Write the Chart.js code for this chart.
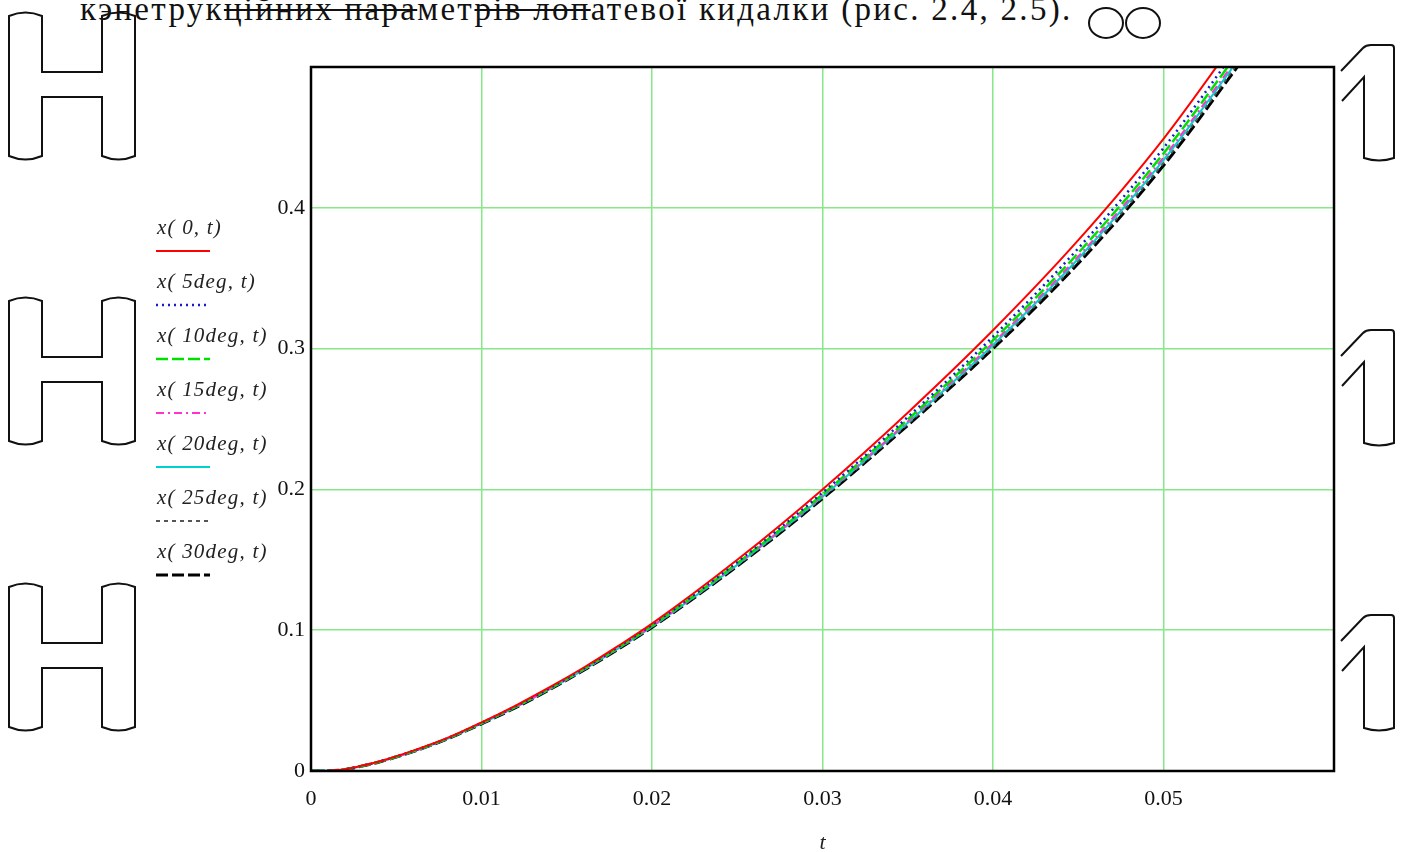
<!DOCTYPE html>
<html>
<head>
<meta charset="utf-8">
<script src="https://cdn.jsdelivr.net/npm/chart.js@4.4.1/dist/chart.umd.min.js"></script>
<style>
  html, body { margin: 0; padding: 0; background: #fff; overflow: hidden; }
  #wrap { position: relative; width: 1403px; height: 852px; }
  #deco { position: absolute; left: 0; top: 0; }
  #chart { position: absolute; left: 0; top: 0; }
  #topText {
    position: absolute; left: 80px; top: -7px; white-space: nowrap;
    font-family: "Liberation Serif", serif; font-size: 33px; line-height: 33px;
    letter-spacing: 2.3px; color: #111;
  }
  #topText s { text-decoration-thickness: 2px; }
</style>
</head>
<body>
<div id="wrap">
  <!-- outline letters that show through around the plot in the scan -->
  <svg id="deco" width="1403" height="852" fill="none" stroke="#111" stroke-width="2">
    <path id="hShape" transform="translate(9,12)" d="M0,4 Q16.5,-3 33,4 L33,60 L93,60 L93,4 Q109.5,-3 126,4 L126,144 Q109.5,151 93,144 L93,85 L33,85 L33,144 Q16.5,151 0,144 Z"/>
    <use href="#hShape" transform="translate(0,285)"/>
    <use href="#hShape" transform="translate(0,571)"/>
    <path id="oneShape" transform="translate(1341,45)" d="M0,26 L22,3 Q25,0 30,0 L50,0 Q53,0 53,3 L53,113 Q38,118 23,113 L23,32 L1,56"/>
    <use href="#oneShape" transform="translate(0,285)"/>
    <use href="#oneShape" transform="translate(0,570)"/>
    <ellipse cx="1106" cy="23" rx="17" ry="15"/>
    <ellipse cx="1143" cy="23" rx="17" ry="15"/>
  </svg>
  <div id="topText">кэнетрук<s>ційних пара</s>мет<s>рів лоп</s>атевої кидалки (рис. 2.4, 2.5).</div>
  <canvas id="chart" width="1403" height="852"></canvas>
</div>
<script>
// time axis t (s)
const tValues = [0, 0.001, 0.002, 0.003, 0.004, 0.006, 0.008, 0.010, 0.012, 0.014, 0.016, 0.018, 0.020, 0.025, 0.030, 0.035, 0.040, 0.045, 0.050, 0.055]

// x(angle, t), one array per angle
const x0deg  = [0, 0.0002, 0.0012, 0.0038, 0.0068, 0.0145, 0.0235, 0.0345, 0.0465, 0.0595, 0.0735, 0.0887, 0.1047, 0.1500, 0.2000, 0.2545, 0.3130, 0.3770, 0.4490, 0.5320]
const x5deg  = [0, 0.0002, 0.0011, 0.0037, 0.0067, 0.0143, 0.0233, 0.0342, 0.0460, 0.0589, 0.0728, 0.0879, 0.1038, 0.1484, 0.1977, 0.2514, 0.3085, 0.3712, 0.4424, 0.5247]
const x10deg = [0, 0.0001, 0.0011, 0.0036, 0.0066, 0.0141, 0.0231, 0.0340, 0.0457, 0.0586, 0.0725, 0.0874, 0.1032, 0.1475, 0.1964, 0.2496, 0.3059, 0.3679, 0.4386, 0.5205]
const x15deg = [0, 0.0001, 0.0011, 0.0036, 0.0065, 0.0140, 0.0230, 0.0338, 0.0455, 0.0583, 0.0722, 0.0871, 0.1028, 0.1469, 0.1955, 0.2482, 0.3039, 0.3654, 0.4357, 0.5173]
const x20deg = [0, 0.0001, 0.0010, 0.0036, 0.0065, 0.0139, 0.0229, 0.0337, 0.0453, 0.0581, 0.0720, 0.0869, 0.1025, 0.1464, 0.1948, 0.2473, 0.3026, 0.3638, 0.4338, 0.5152]
const x25deg = [0, 0.0001, 0.0010, 0.0035, 0.0064, 0.0139, 0.0229, 0.0336, 0.0452, 0.0580, 0.0718, 0.0866, 0.1023, 0.1460, 0.1942, 0.2464, 0.3013, 0.3622, 0.4319, 0.5131]
const x30deg = [0, 0.0001, 0.0010, 0.0035, 0.0064, 0.0138, 0.0228, 0.0335, 0.0450, 0.0578, 0.0716, 0.0864, 0.1020, 0.1455, 0.1935, 0.2455, 0.3000, 0.3605, 0.4300, 0.5110]

const traceLabels = ["x( 0, t)", "x( 5deg, t)", "x( 10deg, t)", "x( 15deg, t)", "x( 20deg, t)", "x( 25deg, t)", "x( 30deg, t)"]
const traceValues = [x0deg, x5deg, x10deg, x15deg, x20deg, x25deg, x30deg]

// tick range
const xMin = 0, xMax = 0.06, xStep = 0.01
const yMin = 0, yMax = 0.5, yStep = 0.1

// mathcad-ish trace styles
const traceStyles = [
  { color: "#ff0000", width: 2,   dash: [] },
  { color: "#1a1acc", width: 2.5, dash: [2, 4] },
  { color: "#00e000", width: 2.5, dash: [12, 4] },
  { color: "#ff33cc", width: 2,   dash: [8, 4, 2, 4] },
  { color: "#00d0d0", width: 2,   dash: [] },
  { color: "#555555", width: 2,   dash: [4, 4] },
  { color: "#000000", width: 3,   dash: [12, 4] }
]

const datasets = traceValues.map((vals, i) => ({
  label: traceLabels[i],
  data: tValues.map((t, k) => ({ x: t, y: vals[k] })),
  borderColor: traceStyles[i].color,
  borderWidth: traceStyles[i].width,
  borderDash: traceStyles[i].dash,
  pointRadius: 0,
  fill: false,
  cubicInterpolationMode: "monotone"
}))

const gridGreen = "#86e886"
const serif = "'Liberation Serif', 'Times New Roman', serif"

// white plot area + black frame like mathcad
const frame = {
  id: "frame",
  beforeDraw(chart) {
    const a = chart.chartArea, c = chart.ctx
    c.save()
    c.fillStyle = "#fff"
    c.fillRect(a.left, a.top, a.right - a.left, a.bottom - a.top)
    c.restore()
  },
  afterDraw(chart) {
    const a = chart.chartArea, c = chart.ctx
    c.save()
    c.strokeStyle = "#000"
    c.lineWidth = 2.5
    c.strokeRect(a.left, a.top, a.right - a.left, a.bottom - a.top)
    c.restore()
  }
}

// legend stacked on the left: label text with a line sample under it
const sideLegend = {
  id: "sideLegend",
  afterDraw(chart) {
    const c = chart.ctx
    c.save()
    chart.data.datasets.forEach((ds, i) => {
      const y = 228 + 54 * i
      c.font = "italic 21px " + serif
      c.letterSpacing = "1.2px"
      c.fillStyle = "#222"
      c.textBaseline = "middle"
      c.textAlign = "left"
      c.fillText(ds.label, 157, y)
      c.strokeStyle = ds.borderColor
      c.lineWidth = ds.borderWidth
      c.setLineDash(ds.borderDash)
      c.beginPath()
      c.moveTo(156, y + 23)
      c.lineTo(210, y + 23)
      c.stroke()
    })
    c.restore()
  }
}

function tickText(value, max) {
  const v = +value.toFixed(3)
  if (Math.abs(v - max) < 1e-9) return ""
  return String(v)
}

new Chart(document.getElementById("chart"), {
  type: "line",
  data: { datasets: datasets },
  options: {
    responsive: false,
    animation: false,
    devicePixelRatio: 1,
    layout: { padding: { top: 67, right: 69, left: 0, bottom: 0 } },
    plugins: { legend: { display: false }, tooltip: { enabled: false } },
    scales: {
      x: {
        type: "linear", min: xMin, max: xMax,
        afterFit(scale) { scale.height = 81 },
        border: { display: false },
        grid: {
          drawTicks: false, lineWidth: 1.5,
          color: ctx => (ctx.tick && ctx.tick.value > xMin && ctx.tick.value < xMax - 1e-9) ? gridGreen : "rgba(0,0,0,0)"
        },
        ticks: {
          stepSize: xStep, padding: 15, color: "#111", maxRotation: 0,
          font: { family: serif, size: 22 },
          callback: v => tickText(v, xMax)
        },
        title: { display: true, text: "t", color: "#222", padding: { top: 6, bottom: -4 }, font: { family: serif, size: 22, style: "italic" } }
      },
      y: {
        type: "linear", min: yMin, max: yMax,
        afterFit(scale) { scale.width = 311 },
        border: { display: false },
        grid: {
          drawTicks: false, lineWidth: 1.5,
          color: ctx => (ctx.tick && ctx.tick.value > yMin && ctx.tick.value < yMax - 1e-9) ? gridGreen : "rgba(0,0,0,0)"
        },
        ticks: {
          stepSize: yStep, padding: 6, color: "#111",
          font: { family: serif, size: 22 },
          callback: v => tickText(v, yMax)
        }
      }
    }
  },
  plugins: [frame, sideLegend]
})
</script>
</body>
</html>
